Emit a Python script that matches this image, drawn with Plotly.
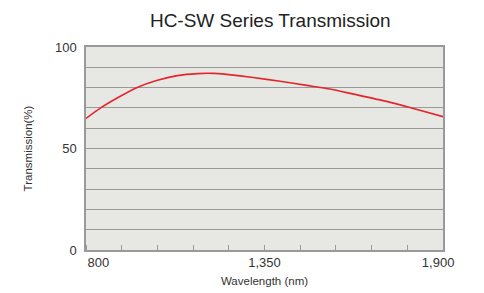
import plotly.graph_objects as go

wavelength = [800, 845, 896, 958, 1020, 1081, 1143, 1194, 1233, 1315, 1398, 1480, 1552, 1624, 1726, 1798, 1900]
transmission = [64.8, 70.0, 74.9, 80.1, 83.6, 85.9, 86.9, 87.0, 86.5, 85.0, 83.1, 81.1, 79.3, 76.8, 73.2, 70.2, 65.7]

x_ticks = [838, 1350, 1885]
x_ticklabels = ["800", "1,350", "1,900"]
y_ticks = [0, 50, 100]

fig = go.Figure()
fig.add_trace(go.Scatter(x=wavelength, y=transmission, mode="lines",
                         line=dict(color="#e3262e", width=1.6, shape="spline", smoothing=0.6),
                         hoverinfo="skip", showlegend=False))

# page body has an 8px margin, so the figure is sized/placed to compensate
fig.update_layout(
    width=476, height=285,
    margin=dict(l=78, r=41, t=39, b=43, autoexpand=False),
    paper_bgcolor="white", plot_bgcolor="#e7e8e3",
    font=dict(family="Liberation Sans, Arial, sans-serif", color="#333333"),
    title=dict(text="HC-SW Series Transmission", x=0.551, xanchor="center", y=0.958, yanchor="middle",
               font=dict(size=19, color="#222222")),
)
fig.update_xaxes(range=[800, 1900], tickvals=x_ticks, ticktext=x_ticklabels,
                 ticks="", showgrid=False, automargin=False,
                 minor=dict(dtick=110, tick0=800, ticks="inside", ticklen=5, tickcolor="#999999", showgrid=False),
                 showline=True, linecolor="#999999", linewidth=1.5, mirror=True,
                 tickfont=dict(size=13), zeroline=False, ticklabelstandoff=0,
                 title=dict(text="Wavelength (nm)", font=dict(size=11.5), standoff=8))
fig.update_yaxes(range=[0, 100], tickvals=y_ticks, ticks="", showgrid=True, automargin=False,
                 gridcolor="#999999", gridwidth=1,
                 minor=dict(dtick=10, tick0=0, showgrid=True, gridcolor="#999999", gridwidth=1),
                 showline=True, linecolor="#999999", linewidth=1.5, mirror=True,
                 tickfont=dict(size=13), zeroline=False, ticklabelstandoff=5,
                 title=dict(text="Transmission(%)", font=dict(size=11.5), standoff=20))

fig.write_html("out.html")
